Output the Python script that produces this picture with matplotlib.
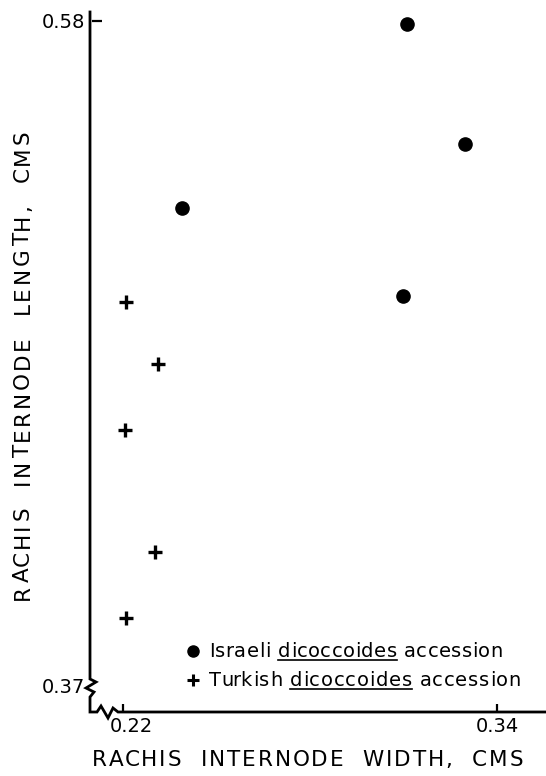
import matplotlib
matplotlib.use("Agg")
import matplotlib.pyplot as plt
from matplotlib.lines import Line2D
from matplotlib.font_manager import FontProperties
import matplotlib.transforms as mtransforms

plt.rcParams['font.family'] = ['DejaVu Sans']

# ---- data ----
israeli_x = [0.311, 0.3297, 0.3098, 0.2389]
israeli_y = [0.579, 0.5411, 0.493, 0.5209]
turkish_x = [0.221, 0.2312, 0.2206, 0.2303, 0.221]
turkish_y = [0.4911, 0.4715, 0.4507, 0.412, 0.3912]
x_ticks = [0.22, 0.34]
x_tick_labels = ["0.22", "0.34"]
y_ticks = [0.37, 0.58]
y_tick_labels = ["0.37", "0.58"]
x_label = "RACHIS  INTERNODE  WIDTH,  CMS"
y_label = "RACHIS  INTERNODE  LENGTH,  CMS"
legend_labels = [("Israeli ", "dicoccoides", " accession"),
                 ("Turkish ", "dicoccoides", " accession")]

W, H = 546, 776
fig = plt.figure(figsize=(W / 100, H / 100), dpi=100)
L, T, R, B = 92, 12, 546, 712
ax = fig.add_axes([L / W, 1 - B / H, (R - L) / W, (B - T) / H])
ax.set_xlim(0.21005, 0.3557)
ax.set_ylim(0.3615, 0.5828)
for s in ax.spines.values():
    s.set_visible(False)

ax.plot(israeli_x, israeli_y, 'o', color='black', markersize=9.5, linestyle='none')
ax.plot(turkish_x, turkish_y, '+', color='black', markersize=10, markeredgewidth=2.4,
        linestyle='none')

# ticks
ax.set_xticks(x_ticks)
ax.set_xticklabels(x_tick_labels)
ax.set_yticks(y_ticks)
ax.set_yticklabels(y_tick_labels)
ax.tick_params(direction='in', width=1.6, labelsize=14, color='black')
ax.tick_params(axis='y', length=7, pad=5)
ax.tick_params(axis='x', length=6, pad=3.5)
ax.yaxis.get_major_ticks()[0].tick1line.set_visible(False)
# shift 0.22 label slightly right (away from the axis break)
lab022 = ax.get_xticklabels()[0]
lab022.set_transform(lab022.get_transform() +
                     mtransforms.ScaledTranslation(8 / 100, 0, fig.dpi_scale_trans))

# axis lines with breaks (pixel positions converted to axes fraction)
aw, ah = R - L, B - T
def px(xp, yp):
    return ((xp - L) / aw, 1 - (yp - T) / ah)

lw = 2.0
axis_pts = [(90, 12), (90, 679), (96, 682), (86, 688), (94, 692), (90, 697), (90, 712),
            (97, 712), (101, 706), (108, 718), (113, 708), (118, 712), (546, 712)]
xs, ys = zip(*[px(a, b) for a, b in axis_pts])
ax.add_line(Line2D(xs, ys, transform=ax.transAxes, color='black', lw=lw, clip_on=False,
                   solid_joinstyle='miter'))

fig.canvas.draw()
renderer = fig.canvas.get_renderer()


def text_w(s, size):
    fp = FontProperties(family='DejaVu Sans', size=size)
    w, h, d = renderer.get_text_width_height_descent(s, fp, ismath=False)
    return w


def advance(prefix, size):
    # horizontal advance of prefix (works with trailing spaces)
    if prefix == "":
        return 0.0
    return text_w(prefix + "|", size) - text_w("|", size)


def tracked(s, size, start_px, base_px, target_w=None, track=0.0, vertical=False):
    """Draw string with letter spacing; start_px along the run direction,
    base_px = baseline position. Returns char offsets and tracking."""
    n = len(s)
    if target_w is not None:
        track = (target_w - text_w(s, size)) / (n - 1)
    offs = []
    for i, ch in enumerate(s):
        o = advance(s[:i], size) + track * i
        offs.append(o)
        if ch == " ":
            continue
        if vertical:
            fig.text(base_px / W, 1 - (start_px - o) / H, ch, rotation=90,
                     ha='left', va='baseline', fontsize=size, rotation_mode='anchor')
        else:
            fig.text((start_px + o) / W, 1 - base_px / H, ch, ha='left', va='baseline',
                     fontsize=size)
    return offs, track


# axis labels (letter-spaced like the original lettering)
tracked(x_label, 15.5, 92, 766, target_w=431)
tracked(y_label, 15.5, 600, 29, target_w=470, vertical=True)

# legend
leg_base = [657, 686]
leg_mark_y = [651, 680]
for (pre, mid, post), yb, ym, k in zip(legend_labels, leg_base, leg_mark_y, range(2)):
    if k == 0:
        fig.add_artist(Line2D([193 / W], [1 - ym / H], marker='o', color='black',
                              markersize=8, linestyle='none'))
    else:
        fig.add_artist(Line2D([193 / W], [1 - ym / H], marker='+', color='black',
                              markersize=9, markeredgewidth=2.2, linestyle='none'))
    full = pre + mid + post
    x0 = 209
    offs, tr = tracked(full, 14, x0, yb, target_w=294 if k == 0 else 312)
    i0 = len(pre)
    i1 = len(pre) + len(mid)
    u_start = x0 + offs[i0]
    u_end = x0 + advance(full[:i1], 14) + tr * (i1 - 1)
    uy = yb + 3
    fig.add_artist(Line2D([u_start / W, u_end / W], [1 - uy / H, 1 - uy / H],
                          color='black', lw=1.2))

fig.savefig("out.png", dpi=100)
